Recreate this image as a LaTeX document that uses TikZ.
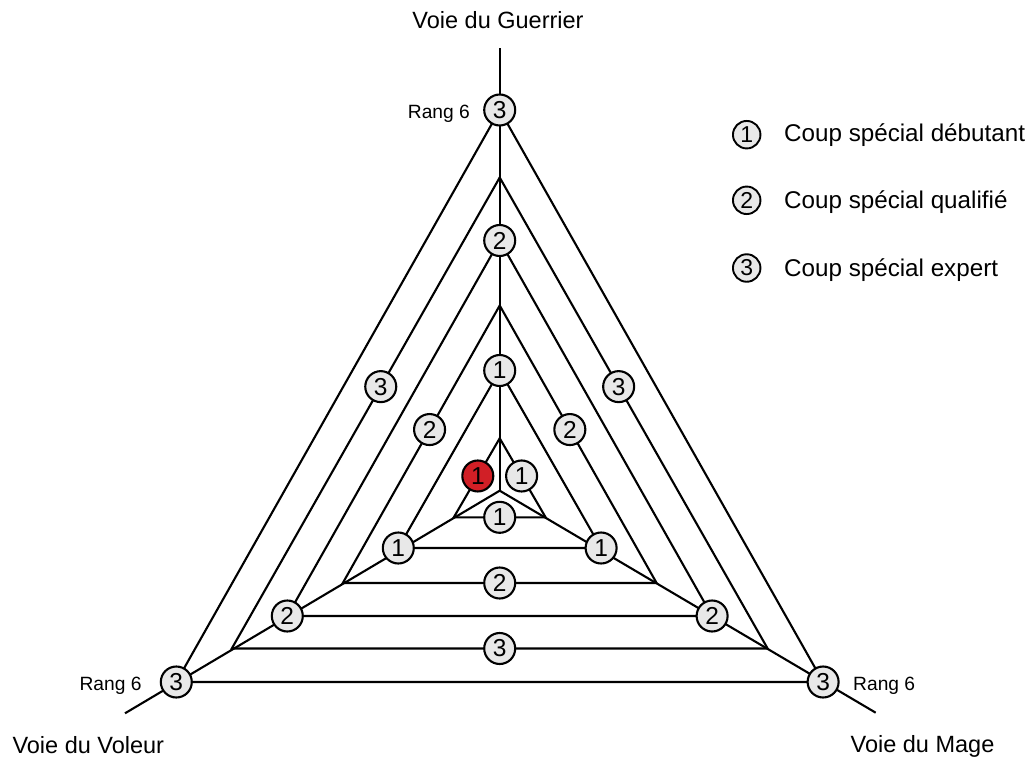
\documentclass[tikz,border=0pt]{standalone}
\usepackage{fontspec}
\setmainfont{Liberation Sans}
\usetikzlibrary{calc}
\definecolor{circfill}{HTML}{E8E8E8}
\definecolor{redfill}{HTML}{D11F26}
\begin{document}
\begin{tikzpicture}[x=1pt,y=-1pt,
  edge/.style={line width=2.1pt, line join=miter},
  badge/.style={circle, draw, line width=2.1pt, fill=circfill, minimum size=31pt, inner sep=0pt, font=\fontsize{24.5}{24.5}\selectfont},
  redbadge/.style={badge, fill=redfill},
  lbadge/.style={circle, draw, line width=1.9pt, fill=circfill, minimum size=27.5pt, inner sep=0pt, font=\fontsize{23}{23}\selectfont},
  rang/.style={inner sep=0pt, font=\fontsize{19.2}{20}\selectfont},
  voie/.style={inner sep=0pt, anchor=base, font=\fontsize{23.5}{25}\selectfont},
  legtext/.style={inner sep=0pt, anchor=base west, font=\fontsize{24.2}{25}\selectfont}]
\useasboundingbox (0,0) rectangle (1035,762);

% centre and axis ends
\coordinate (O) at (499.7,490.7);
\coordinate (AT) at (499.7,48);
\coordinate (AL) at (125,713.3);
\coordinate (AR) at (875.7,712.7);

% triangle vertices per rank: top / bottom y / half width
\foreach \k/\t/\b/\h in {1/438.3/517.3/45.9, 2/370.5/548/101.4, 3/305.5/583/156.9,
                         4/240.5/616/212.4, 5/177.5/648.5/267.9, 6/110/682/323.4}{
  \coordinate (T\k) at (499.7,\t);
  \coordinate (L\k) at (499.7-\h,\b);
  \coordinate (R\k) at (499.7+\h,\b);
}

% axes
\draw[edge] (O) -- (AT);
\draw[edge] (O) -- (AL);
\draw[edge] (O) -- (AR);

% triangles
\foreach \k in {1,...,6}{
  \draw[edge] (T\k) -- (L\k) -- (R\k) -- cycle;
}

% rank 1 (edge points)
\node[redbadge] (e1l) at ($(T1)!0.477!(L1)$) {1};
\node[badge] (e1r) at ($(T1)!0.477!(R1)$) {1};
\node[badge] (e1b) at ($(L1)!0.5!(R1)$) {1};
% rank 2 (vertices)
\node[badge] (v2t) at (T2) {1};
\node[badge] (v2l) at (L2) {1};
\node[badge] (v2r) at (R2) {1};
% rank 3 (edges)
\node[badge] (e3l) at ($(T3)!0.447!(L3)$) {2};
\node[badge] (e3r) at ($(T3)!0.447!(R3)$) {2};
\node[badge] (e3b) at ($(L3)!0.5!(R3)$) {2};
% rank 4 (vertices)
\node[badge] (v4t) at (T4) {2};
\node[badge] (v4l) at (L4) {2};
\node[badge] (v4r) at (R4) {2};
% rank 5 (edges)
\node[badge] (e5l) at ($(T5)!0.444!(L5)$) {3};
\node[badge] (e5r) at ($(T5)!0.444!(R5)$) {3};
\node[badge] (e5b) at ($(L5)!0.5!(R5)$) {3};
% rank 6 (vertices)
\node[badge] (v6t) at (T6) {3};
\node[badge] (v6l) at (L6) {3};
\node[badge] (v6r) at (R6) {3};

% rank labels
\node[rang, anchor=base east] (r6t) at (470,118.3) {Rang 6};
\node[rang, anchor=base east] (r6l) at (141.7,690) {Rang 6};
\node[rang, anchor=base west] (r6r) at (853,690) {Rang 6};

% path names
\node[voie] (guerrier) at (498,28.3) {Voie du Guerrier};
\node[voie] (voleur) at (88.3,753) {Voie du Voleur};
\node[voie] (mage) at (922.5,752) {Voie du Mage};

% legend
\node[lbadge] (k1) at (746.7,134.7) {1};
\node[lbadge] (k2) at (746.7,200.3) {2};
\node[lbadge] (k3) at (746.7,268) {3};
\node[legtext] (k1t) at (784,141.7) {Coup spécial débutant};
\node[legtext] (k2t) at (784,208.5) {Coup spécial qualifié};
\node[legtext] (k3t) at (784,276) {Coup spécial expert};
\end{tikzpicture}
\end{document}
